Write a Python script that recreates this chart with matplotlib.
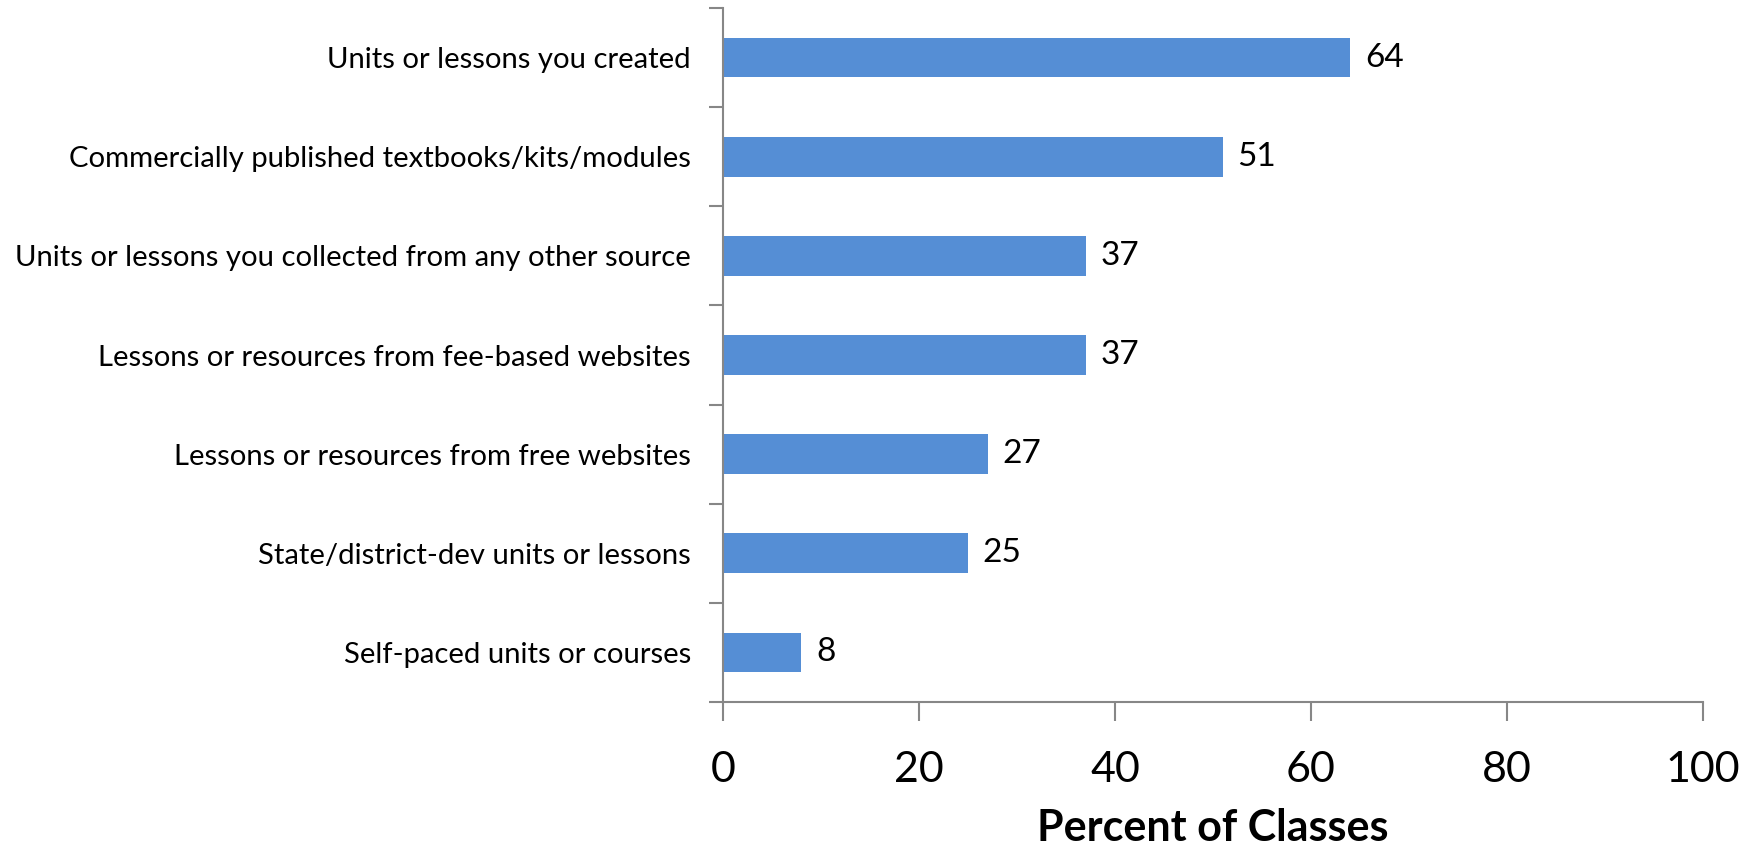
import matplotlib
matplotlib.use("Agg")
import matplotlib.pyplot as plt

categories = [
    "Units or lessons you created",
    "Commercially published textbooks/kits/modules",
    "Units or lessons you collected from any other source",
    "Lessons or resources from fee-based websites",
    "Lessons or resources from free websites",
    "State/district-dev units or lessons",
    "Self-paced units or courses",
]
values = [64, 51, 37, 37, 27, 25, 8]
x_ticks = [0, 20, 40, 60, 80, 100]

plt.rcParams['font.family'] = ['Lato', 'DejaVu Sans']

fig = plt.figure(figsize=(17.55, 8.49), dpi=100)
ax = fig.add_axes([723 / 1755, 1 - 702 / 849, 980 / 1755, 694 / 849])

n = len(categories)
ypos = list(range(n))[::-1]
bar_color = "#558ED5"
ax.barh(ypos, values, height=0.4, color=bar_color)

for y, v in zip(ypos, values):
    ax.text(v + 1.5, y, f"{v}", va="center", ha="left", fontsize=24)

ax.set_xlim(0, 100)
ax.set_ylim(-0.5, n - 0.5)
ax.set_xticks(x_ticks)
ax.set_xticklabels([str(t) for t in x_ticks], fontsize=31)
ax.set_yticks(ypos)
ax.set_yticklabels(categories, fontsize=21.1)

# category boundary ticks on the y axis
ax.set_yticks([i - 0.5 for i in range(n + 1)], minor=True)
ax.tick_params(axis="y", which="major", length=0, pad=23)
ax.tick_params(axis="y", which="minor", length=10, width=1.5, color="#878787")
ax.tick_params(axis="x", which="major", length=14, width=1.5, color="#878787", pad=21)

for side in ["top", "right"]:
    ax.spines[side].set_visible(False)
for side in ["left", "bottom"]:
    ax.spines[side].set_color("#878787")
    ax.spines[side].set_linewidth(1.5)

ax.set_xlabel("Percent of Classes", fontsize=31, fontweight="bold", labelpad=14)

fig.savefig("out.png", dpi=100)
